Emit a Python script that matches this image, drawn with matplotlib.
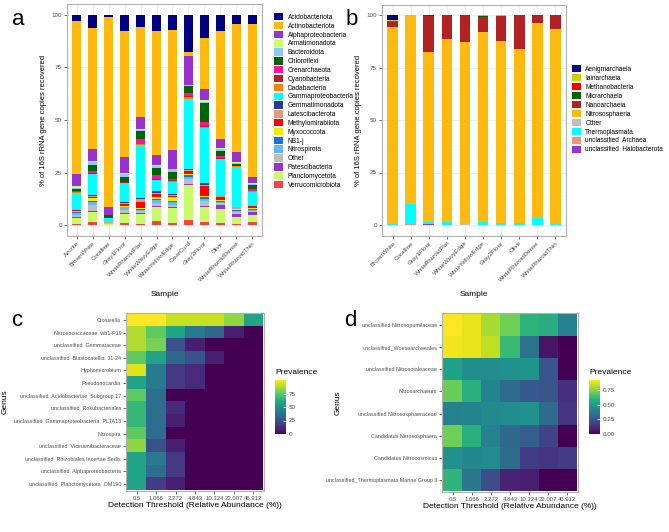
import numpy as np
import matplotlib
matplotlib.use("Agg")
import matplotlib.pyplot as plt
from matplotlib.patches import Patch

plt.rcParams["font.family"] = ["Liberation Sans", "DejaVu Sans"]

W, H = 669, 532

# ---- panel a: bacterial phyla (% of 16S copies) ----
phyla = ["Acidobacteriota", "Actinobacteriota", "Alphaproteobacteria", "Armatimonadota",
         "Bacteroidota", "Chloroflexi", "Crenarchaeota", "Cyanobacteria", "Dadabacteria",
         "Gammaproteobacteria", "Gemmatimonadota", "Latescibacterota", "Methylomirabilota",
         "Myxococcota", "NB1-j", "Nitrospirota", "Other", "Patescibacteria",
         "Planctomycetota", "Verrucomicrobiota"]
phyla_colors = ["#000080", "#FFB90F", "#9932CC", "#CAFF70", "#87CEFA", "#006400", "#FF1493",
                "#B22222", "#FF7F00", "#00FFFF", "#27408B", "#E9967A", "#FF0000", "#EEEE00",
                "#1874CD", "#63B8FF", "#BEBEBE", "#9A32CD", "#C8FA6A", "#FF4040"]
samples_a = ["Azurite", "BrownWhite", "Coralline", "Gray1Floor", "WhiteRhizoidFlat",
             "WhiteWavyEdge", "WhiteYellowEdge", "CaveCurd", "Gray2Floor", "Olive",
             "WhiteRhizoidDense", "WhiteRhizoidThin"]
azurite = [3.2, 72.8, 6.0, 0.5, 0.7, 1.0, 0.3, 0.3, 0.3, 7.5, 0.3, 0.5, 0.3, 0.6, 0.5, 0.6, 1.0, 0.7, 2.7, 0.8]
brownwhite = [6.3, 57.6, 5.8, 0.4, 1.5, 2.8, 1.0, 0.3, 0.3, 10.0, 0.3, 0.7, 0.5, 1.3, 0.4, 1.4, 2.8, 0.5, 5.0, 1.5]
coralline = [1.4, 90.3, 3.6, 0.1, 0.1, 1.5, 0.0, 0.0, 0.0, 1.9, 0.0, 0.1, 0.0, 0.0, 0.0, 0.1, 0.4, 0.1, 0.6, 0.2]
gray1floor = [7.7, 59.6, 7.8, 0.4, 1.1, 2.4, 0.3, 0.2, 0.2, 9.1, 0.4, 0.5, 0.6, 0.5, 0.4, 1.0, 1.5, 0.5, 4.2, 1.3]
rhizoidflat = [6.1, 42.6, 5.8, 0.4, 0.6, 3.8, 2.4, 0.3, 0.3, 25.4, 0.4, 1.2, 3.1, 0.5, 0.5, 0.6, 0.8, 0.4, 4.7, 0.8]
wavyedge = [7.8, 58.8, 4.9, 0.4, 0.8, 3.5, 1.7, 0.3, 0.3, 5.0, 0.9, 0.8, 1.0, 1.0, 0.7, 1.2, 1.8, 0.4, 6.6, 2.0]
yellowedge = [7.4, 57.3, 8.6, 0.4, 1.2, 3.6, 0.4, 0.3, 0.3, 5.8, 0.4, 0.8, 0.4, 2.0, 0.5, 1.3, 1.1, 0.5, 6.9, 1.2]
cavecurd = [17.6, 1.9, 13.8, 0.3, 0.4, 3.5, 1.2, 0.7, 0.9, 33.3, 0.3, 0.4, 1.6, 0.3, 0.9, 1.1, 2.4, 0.3, 16.5, 2.8]
gray2floor = [11.0, 24.3, 5.0, 0.9, 0.5, 8.9, 1.9, 0.3, 0.6, 26.0, 0.8, 0.6, 4.7, 0.5, 1.0, 0.8, 2.4, 0.7, 7.0, 1.5]
olive = [7.7, 51.5, 4.2, 0.4, 0.8, 2.8, 0.8, 0.3, 0.3, 16.8, 0.3, 1.0, 1.2, 0.5, 0.5, 0.5, 0.9, 1.9, 6.6, 1.2]
rhizoiddense = [4.6, 60.1, 5.0, 0.3, 0.5, 0.8, 0.2, 0.2, 0.2, 18.8, 0.4, 0.5, 0.4, 0.3, 0.3, 0.6, 0.8, 1.5, 3.5, 0.6]
rhizoidthin = [4.6, 72.4, 3.0, 0.2, 0.5, 1.9, 0.9, 0.3, 0.2, 6.1, 0.3, 0.5, 0.8, 0.3, 0.5, 0.5, 0.6, 1.3, 3.5, 1.5]

# ---- panel b: archaeal classes ----
classes = ["Aenigmarchaeia", "Iainarchaeia", "Methanobacteria", "Micrarchaeia", "Nanoarchaeia",
           "Nitrososphaeria", "Other", "Thermoplasmata", "unclassified  Archaea",
           "unclassified  Halobacterota"]
class_colors = ["#000080", "#CDCD00", "#FF0000", "#006400", "#B22222", "#FFB90F",
                "#BEBEBE", "#00FFFF", "#E9967A", "#9A32CD"]
samples_b = ["BrownWhite", "Coralline", "Gray1Floor", "WhiteRhizoidFlat", "WhiteWavyEdge",
             "WhiteYellowEdge", "Gray2Floor", "Olive", "WhiteRhizoidDense", "WhiteRhizoidThin"]
b_brownwhite = [2.3, 0.5, 0.0, 0.0, 3.0, 93.5, 0.0, 0.7, 0.0, 0.0]
b_coralline = [0.0, 0.0, 0.0, 0.0, 0.0, 89.7, 0.3, 9.5, 0.5, 0.0]
b_gray1floor = [0.0, 0.0, 0.0, 0.7, 17.1, 80.7, 0.0, 0.8, 0.0, 0.7]
b_rhizoidflat = [0.0, 0.0, 0.0, 0.2, 11.4, 86.9, 0.0, 1.5, 0.0, 0.0]
b_wavyedge = [0.0, 0.0, 0.0, 0.0, 12.9, 86.2, 0.8, 0.1, 0.0, 0.0]
b_yellowedge = [0.0, 0.3, 0.0, 0.5, 7.5, 90.1, 0.0, 1.6, 0.0, 0.0]
b_gray2floor = [0.0, 0.3, 0.0, 0.0, 12.2, 86.7, 0.0, 0.8, 0.0, 0.0]
b_olive = [0.0, 0.0, 0.0, 0.0, 16.4, 82.6, 0.0, 1.0, 0.0, 0.0]
b_rhizoiddense = [0.0, 0.0, 0.0, 0.0, 3.7, 92.8, 0.0, 3.5, 0.0, 0.0]
b_rhizoidthin = [0.0, 0.0, 0.0, 0.0, 6.8, 92.7, 0.0, 0.5, 0.0, 0.0]

# ---- panels c, d: core microbiome prevalence ----
thresholds = ["0.5", "1.066", "2.272", "4.843", "10.324", "22.007", "46.912"]
genus_c = ["Crossiella", "Nitrosococcaceae  wb1-P19", "unclassified  Gemmataceae",
           "unclassified  Blastocatellia  11-24", "Hyphomicrobium", "Pseudonocardia",
           "unclassified  Acidobacteriae  Subgroup 17", "unclassified  Rokubacteriales",
           "unclassified  Gammaproteobacteria  PLTA13", "Nitrospira",
           "unclassified  Vicinamibacteraceae", "unclassified  Rhizobiales Incertae Sedis",
           "unclassified  Alphaproteobacteria", "unclassified  Planctomycetota  OM190"]
prev_c = [[100, 100, 91.7, 91.7, 91.7, 83.3, 58.3],
          [88, 75, 58.3, 41.7, 33.3, 8.3, 0],
          [88, 80, 25, 8.3, 0, 0, 0],
          [75, 58.3, 33.3, 25, 8.3, 0, 0],
          [95, 41.7, 16.7, 12, 0, 0, 0],
          [58.3, 41.7, 16.7, 12, 0, 0, 0],
          [75, 36, 0, 0, 0, 0, 0],
          [66.7, 36, 12, 0, 0, 0, 0],
          [66.7, 36, 8.3, 0, 0, 0, 0],
          [75, 36, 0, 0, 0, 0, 0],
          [83.3, 25, 8.3, 0, 0, 0, 0],
          [58.3, 41.7, 16.7, 0, 0, 0, 0],
          [58.3, 36, 16.7, 0, 0, 0, 0],
          [58.3, 18, 8.3, 0, 0, 0, 0]]
genus_d = ["unclassified Nitrosopumilaceae", "unclassified_Woesearchaeales",
           "unclassified Nitrosotaleaceae", "Nitrosarchaeum",
           "unclassified Nitrososphaeraceae", "Candidatus Nitrososphaera",
           "Candidatus Nitrocosmicus", "unclassified_Thermoplasmata Marine Group II"]
prev_d = [[0.93, 0.90, 0.81, 0.73, 0.60, 0.58, 0.41],
          [0.91, 0.90, 0.84, 0.63, 0.35, 0.05, 0.0],
          [0.54, 0.46, 0.46, 0.47, 0.48, 0.25, 0.0],
          [0.72, 0.59, 0.42, 0.33, 0.26, 0.25, 0.13],
          [0.41, 0.42, 0.44, 0.45, 0.47, 0.33, 0.14],
          [0.73, 0.59, 0.41, 0.32, 0.28, 0.19, 0.0],
          [0.47, 0.43, 0.45, 0.33, 0.16, 0.14, 0.16],
          [0.61, 0.37, 0.22, 0.09, 0.07, 0.0, 0.0]]

TICK = "#4D4D4D"
GRID = "#EBEBEB"


def px_axes(fig, l, t, r, b):
    return fig.add_axes([l / W, 1 - b / H, (r - l) / W, (b - t) / H])


def style_bw(ax):
    for s in ax.spines.values():
        s.set_color("#B0B0B0")
        s.set_linewidth(0.8)
    ax.tick_params(length=2, width=0.5, color="#333333", labelcolor=TICK, labelsize=4.5, pad=1.5)


def stacked(ax, samples, cats, colors, table, legend_xy, legend_gap, legend_fs):
    data = np.array(table, dtype=float)
    data = data / data.sum(axis=1, keepdims=True) * 100   # like position = "fill"
    x = np.arange(1, len(samples) + 1)
    bottom = np.zeros(len(samples))
    for j in range(len(cats) - 1, -1, -1):   # first level sits on top
        ax.bar(x, data[:, j], bottom=bottom, width=0.6, color=colors[j], linewidth=0, zorder=2)
        bottom += data[:, j]
    ax.set_xlim(0.4, len(samples) + 0.6)
    ax.set_ylim(-5, 105)
    ax.set_yticks([0, 25, 50, 75, 100])
    ax.set_yticks([12.5, 37.5, 62.5, 87.5], minor=True)
    ax.set_xticks(x)
    ax.set_xticklabels(samples, rotation=45, ha="right", rotation_mode="anchor", fontsize=4.6)
    ax.grid(which="major", color=GRID, linewidth=0.6, zorder=0)
    ax.grid(which="minor", axis="y", color="#F4F4F4", linewidth=0.4, zorder=0)
    ax.tick_params(which="minor", length=0)
    ax.set_axisbelow(True)
    style_bw(ax)
    ax.set_xlabel("Sample", fontsize=6, labelpad=6)
    ax.set_ylabel("% of 16S rRNA gene copies recovered", fontsize=5.5, labelpad=3)
    handles = [Patch(facecolor=c, edgecolor="none", label=l) for c, l in zip(colors, cats)]
    fig.legend(handles=handles, loc="upper left", bbox_to_anchor=(legend_xy[0] / W, 1 - legend_xy[1] / H),
               frameon=False, fontsize=legend_fs, handlelength=1.35, handleheight=1.35,
               handletextpad=0.7, labelspacing=legend_gap, borderpad=0, borderaxespad=0)


def heatmap(ax, cax, genera, table, cbticks, cblabels, label_x):
    data = np.array(table, dtype=float)
    im = ax.imshow(data, cmap="viridis", aspect="auto", interpolation="nearest",
                   vmin=data.min(), vmax=data.max(),
                   extent=(-0.5, len(thresholds) - 0.5, len(genera) - 0.5, -0.5))
    ax.set_xlim(-0.56, len(thresholds) - 0.44)
    ax.set_ylim(len(genera) - 0.44, -0.56)
    ax.set_xticks(range(len(thresholds)))
    ax.set_xticklabels(thresholds, fontsize=4.3)
    ax.set_yticks(range(len(genera)))
    ax.set_yticklabels(genera, fontsize=3.9)
    style_bw(ax)
    ax.tick_params(axis="x", labelsize=4.3)
    ax.tick_params(axis="y", labelsize=3.9)
    ax.set_xlabel("Detection Threshold (Relative Abundance (%))", fontsize=6, labelpad=1)
    ax.set_ylabel("Genus", fontsize=6)
    bb = ax.get_position()
    ax.yaxis.set_label_coords((label_x / W - bb.x0) / bb.width, 0.5)
    cb = fig.colorbar(im, cax=cax, ticks=cbticks)
    cb.outline.set_visible(False)
    cb.ax.set_yticklabels(cblabels)
    cb.ax.tick_params(direction="in", length=2.5, width=0.5, color="white",
                      labelcolor=TICK, labelsize=4.5, pad=2)
    cax.set_title("Prevalence", fontsize=6, loc="left", pad=4)
    return im


fig = plt.figure(figsize=(W / 100, H / 100), dpi=100)

# a
ax_a = px_axes(fig, 67, 4, 262, 236)
stacked(ax_a, samples_a, phyla, phyla_colors,
        [azurite, brownwhite, coralline, gray1floor, rhizoidflat, wavyedge, yellowedge,
         cavecurd, gray2floor, olive, rhizoiddense, rhizoidthin],
        (274, 13), 0.13, 4.8)

# b
ax_b = px_axes(fig, 382, 4.5, 566, 235.5)
stacked(ax_b, samples_b, classes, class_colors,
        [b_brownwhite, b_coralline, b_gray1floor, b_rhizoidflat, b_wavyedge, b_yellowedge,
         b_gray2floor, b_olive, b_rhizoiddense, b_rhizoidthin],
        (572, 65), 0.17, 4.7)

# c
ax_c = px_axes(fig, 126, 313, 264, 491)
cax_c = px_axes(fig, 275, 380, 286, 434)
heatmap(ax_c, cax_c, genus_c, prev_c, [0, 25, 50, 75], ["0", "25", "50", "75"], 9)

# d
ax_d = px_axes(fig, 442, 313, 578, 492)
cax_d = px_axes(fig, 589, 380, 600, 434)
heatmap(ax_d, cax_d, genus_d, prev_d, [0, 0.25, 0.5, 0.75], ["0.00", "0.25", "0.50", "0.75"], 342)

for letter, (x, y) in zip("abcd", [(12, 25), (346, 25), (12, 326), (344, 326)]):
    fig.text(x / W, 1 - y / H, letter, fontsize=16, ha="left", va="baseline")

fig.savefig("out.png", dpi=100)
